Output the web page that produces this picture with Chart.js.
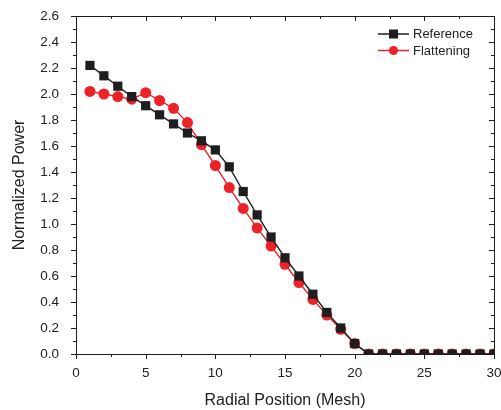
<!DOCTYPE html>
<html>
<head>
<meta charset="utf-8">
<script src="https://cdn.jsdelivr.net/npm/chart.js@4"></script>
<style>
  html, body { margin: 0; padding: 0; background: #fff; }
  #wrap { width: 501px; height: 410px; }
</style>
</head>
<body>
<div id="wrap"><canvas id="powerChart" width="501" height="410"></canvas></div>
<script>
/* Radial mesh positions 1..30 */
var positions = [1, 2, 3, 4, 5, 6, 7, 8, 9, 10, 11, 12, 13, 14, 15,
                 16, 17, 18, 19, 20, 21, 22, 23, 24, 25, 26, 27, 28, 29, 30];

/* Normalized power */
var referencePower = [2.22, 2.14, 2.06, 1.98, 1.91, 1.84, 1.77, 1.70, 1.64, 1.57,
                      1.44, 1.25, 1.07, 0.90, 0.74, 0.60, 0.46, 0.32, 0.20, 0.08,
                      0, 0, 0, 0, 0, 0, 0, 0, 0, 0];
var flatteningPower = [2.02, 2.00, 1.98, 1.96, 2.01, 1.95, 1.89, 1.78, 1.61, 1.45,
                       1.28, 1.12, 0.97, 0.83, 0.69, 0.55, 0.42, 0.30, 0.19, 0.08,
                       0, 0, 0, 0, 0, 0, 0, 0, 0, 0];

var seriesLabels = ['Reference', 'Flattening'];
var xTicks = [0, 5, 10, 15, 20, 25, 30];
var yTicks = [0, 0.2, 0.4, 0.6, 0.8, 1.0, 1.2, 1.4, 1.6, 1.8, 2.0, 2.2, 2.4, 2.6];

var BLACK = '#1e1e1e';
var RED = '#ec2228';
var FONT = '"Liberation Sans", Arial, sans-serif';

function toPoints(xs, ys) {
  return xs.map(function (x, i) { return { x: x, y: ys[i] }; });
}

/* Origin style frame: box, minor ticks, inward ticks on top/right, inset legend */
var framePlugin = {
  id: 'frame',
  afterDraw: function (chart) {
    var ctx = chart.ctx;
    var a = chart.chartArea;
    var xs = chart.scales.x, ys = chart.scales.y;
    ctx.save();
    ctx.strokeStyle = BLACK;
    ctx.lineWidth = 1;
    ctx.strokeRect(a.left + 0.5, a.top + 0.5, a.right - a.left, a.bottom - a.top);

    ctx.beginPath();
    // x ticks: major every 5, minor at 2.5
    for (var v = 0; v <= 30; v += 2.5) {
      var px = Math.round(xs.getPixelForValue(v)) + 0.5;
      var major = v % 5 === 0;
      var len = major ? 5 : 3;
      ctx.moveTo(px, a.bottom); ctx.lineTo(px, a.bottom + len);
      ctx.moveTo(px, a.top); ctx.lineTo(px, a.top + len);
    }
    // y ticks: major every 0.2, minor at 0.1
    for (var i = 0; i <= 26; i++) {
      var py = Math.round(ys.getPixelForValue(i / 10)) + 0.5;
      var len2 = i % 2 === 0 ? 5 : 3;
      ctx.moveTo(a.left, py); ctx.lineTo(a.left - len2, py);
      ctx.moveTo(a.right, py); ctx.lineTo(a.right - len2, py);
    }
    ctx.stroke();

    // legend inside the plot
    var rows = [
      { label: seriesLabels[0], color: BLACK, shape: 'rect' },
      { label: seriesLabels[1], color: RED, shape: 'circle' }
    ];
    ctx.font = '13px ' + FONT;
    ctx.textBaseline = 'middle';
    rows.forEach(function (r, k) {
      var y = 34 + k * 16.5;
      ctx.strokeStyle = r.color;
      ctx.lineWidth = 1.5;
      ctx.beginPath();
      ctx.moveTo(378, y); ctx.lineTo(409, y);
      ctx.stroke();
      ctx.fillStyle = r.color;
      if (r.shape === 'rect') {
        ctx.fillRect(389, y - 4.5, 9, 9);
      } else {
        ctx.beginPath();
        ctx.arc(393.5, y, 4.5, 0, Math.PI * 2);
        ctx.fill();
      }
      ctx.fillStyle = '#222';
      ctx.fillText(r.label, 413, y + 0.5);
    });
    ctx.restore();
  }
};

var ctx = document.getElementById('powerChart').getContext('2d');
var powerChart = new Chart(ctx, {
  type: 'line',
  data: {
    datasets: [{
      label: seriesLabels[0],
      data: toPoints(positions, referencePower),
      borderColor: BLACK,
      backgroundColor: BLACK,
      borderWidth: 1.4,
      pointStyle: 'rect',
      pointRadius: 6.5,
      pointBorderWidth: 0,
      tension: 0
    }, {
      label: seriesLabels[1],
      data: toPoints(positions, flatteningPower),
      borderColor: RED,
      backgroundColor: RED,
      borderWidth: 1.4,
      pointStyle: 'circle',
      pointRadius: 5.5,
      pointBorderWidth: 0,
      tension: 0
    }]
  },
  options: {
    responsive: false,
    animation: false,
    layout: { padding: { top: 16, right: 7, left: 0, bottom: 0 } },
    plugins: {
      legend: { display: false },
      tooltip: { enabled: false }
    },
    scales: {
      x: {
        type: 'linear',
        min: 0,
        max: 30,
        afterFit: function (s) { s.height = 56; s.paddingLeft = 0; s.paddingRight = 0; },
        afterBuildTicks: function (s) { s.ticks = xTicks.map(function (v) { return { value: v }; }); },
        grid: { display: false },
        border: { display: false },
        ticks: { color: '#222', padding: 3, maxRotation: 0, font: { family: FONT, size: 13.5 } },
        title: {
          display: true,
          text: 'Radial Position (Mesh)',
          color: '#222',
          font: { family: FONT, size: 16 },
          padding: { top: 4, bottom: 0 }
        }
      },
      y: {
        type: 'linear',
        min: 0,
        max: 2.6,
        afterFit: function (s) { s.width = 76; s.paddingTop = 0; s.paddingBottom = 0; },
        afterBuildTicks: function (s) { s.ticks = yTicks.map(function (v) { return { value: v }; }); },
        grid: { display: false },
        border: { display: false },
        ticks: {
          color: '#222',
          padding: 9,
          font: { family: FONT, size: 13.5 },
          callback: function (v) { return v.toFixed(1); }
        },
        title: {
          display: true,
          text: 'Normalized Power',
          color: '#222',
          font: { family: FONT, size: 16 },
          padding: { top: 10, bottom: 0 }
        }
      }
    }
  },
  plugins: [framePlugin]
});
</script>
</body>
</html>
